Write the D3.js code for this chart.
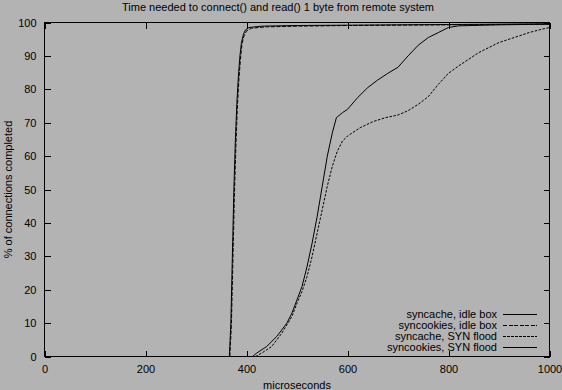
<!DOCTYPE html>
<html>
<head>
<meta charset="utf-8">
<script src="https://cdn.jsdelivr.net/npm/d3@7"></script>
<style>
  body { margin: 0; background: #b3b3b3; }
  svg { display: block; font-family: "Liberation Sans", Arial, sans-serif; }
  .axis text { font-size: 11px; fill: #000; }
  .axis line { stroke: #000; }
  .axis path { display: none; }
</style>
</head>
<body>
<div id="chart"></div>
<script>
// data: x in microseconds, y in % of connections completed
var seriesNames = ["syncache, idle box", "syncookies, idle box", "syncache, SYN flood", "syncookies, SYN flood"];

var syncacheIdleUs  = [366, 369, 372, 375, 378, 381, 384, 387, 390, 394, 398, 405, 430, 500, 600, 800, 1000];
var syncacheIdlePct = [0, 10, 30, 50, 65, 76, 84, 90, 94, 96.5, 97.8, 98.5, 98.9, 99.1, 99.2, 99.4, 99.6];

var syncookiesIdleUs  = [367, 370, 373, 376, 379, 382, 385, 388, 391, 395, 400, 410, 440, 500, 600, 800, 1000];
var syncookiesIdlePct = [0, 9, 28, 48, 63, 75, 83, 89, 93.5, 96, 97.5, 98.3, 98.7, 98.9, 99.1, 99.3, 99.5];

var syncacheFloodUs  = [418, 430, 450, 470, 490, 500, 510, 520, 530, 540, 550, 560, 570, 580, 590, 600, 625, 650, 675, 700, 720, 740, 760, 780, 800, 820, 840, 860, 880, 900, 920, 940, 960, 980, 1000];
var syncacheFloodPct = [0, 1, 3, 7, 12, 16, 19.5, 24, 30, 37, 44, 51, 57, 61.5, 64.5, 66, 68.5, 70.3, 71.5, 72.3, 73.6, 75.5, 77.8, 81.5, 84.8, 87, 89, 91, 92.5, 94, 95, 96, 97, 97.8, 98.5];

var syncookiesFloodUs  = [412, 420, 440, 460, 480, 490, 500, 510, 520, 530, 540, 550, 560, 570, 578, 590, 600, 620, 640, 660, 680, 700, 720, 740, 760, 780, 800, 820, 900, 1000];
var syncookiesFloodPct = [0, 1, 3, 6, 10, 13, 17, 21, 27, 34, 42, 51, 60, 67, 71.5, 73, 74, 77.5, 80.5, 82.8, 84.8, 86.6, 90, 93.2, 95.5, 97, 98.5, 99, 99.3, 99.5];

var xTicks = [0, 200, 400, 600, 800, 1000];
var yTicks = [0, 10, 20, 30, 40, 50, 60, 70, 80, 90, 100];

var W = 562, H = 390;
var plot = {left: 44.5, right: 549.5, top: 22.5, bottom: 356.5};

var svg = d3.select("#chart").append("svg")
    .attr("width", W)
    .attr("height", H);

var x = d3.scaleLinear().domain([0, 1000]).range([plot.left, plot.right]);
var y = d3.scaleLinear().domain([0, 100]).range([plot.bottom, plot.top]);

// axes, ticks pointing inward on all four sides (gnuplot style)
svg.append("g").attr("class", "axis")
    .attr("transform", "translate(0," + plot.bottom + ")")
    .attr("shape-rendering", "crispEdges")
    .call(d3.axisBottom(x).tickValues(xTicks).tickSize(-6).tickPadding(8.5).tickFormat(d3.format("d")));
svg.append("g").attr("class", "axis")
    .attr("transform", "translate(0," + plot.top + ")")
    .attr("shape-rendering", "crispEdges")
    .call(d3.axisTop(x).tickValues(xTicks).tickSize(-6).tickFormat(""));
svg.append("g").attr("class", "axis")
    .attr("transform", "translate(" + plot.left + ",0)")
    .attr("shape-rendering", "crispEdges")
    .call(d3.axisLeft(y).tickValues(yTicks).tickSize(-6).tickPadding(8));
svg.append("g").attr("class", "axis")
    .attr("transform", "translate(" + plot.right + ",0)")
    .attr("shape-rendering", "crispEdges")
    .call(d3.axisRight(y).tickValues(yTicks).tickSize(-6).tickFormat(""));

svg.append("rect")
    .attr("x", plot.left).attr("y", plot.top)
    .attr("width", plot.right - plot.left).attr("height", plot.bottom - plot.top)
    .attr("fill", "none").attr("stroke", "#000")
    .attr("shape-rendering", "crispEdges");

// titles
svg.append("text")
    .attr("x", 278).attr("y", 10.5)
    .attr("text-anchor", "middle")
    .style("font-size", "11px")
    .text("Time needed to connect() and read() 1 byte from remote system");

svg.append("text")
    .attr("x", (plot.left + plot.right) / 2).attr("y", 388.5)
    .attr("text-anchor", "middle")
    .style("font-size", "11px")
    .text("microseconds");

svg.append("text")
    .attr("transform", "rotate(-90)")
    .attr("x", -(plot.top + plot.bottom) / 2).attr("y", 11.5)
    .attr("text-anchor", "middle")
    .style("font-size", "11px")
    .text("% of connections completed");

// series
var dashes = [null, "4,1.5", "2.5,1.5", null];
var series = [
    {name: seriesNames[0], us: syncacheIdleUs, pct: syncacheIdlePct},
    {name: seriesNames[1], us: syncookiesIdleUs, pct: syncookiesIdlePct},
    {name: seriesNames[2], us: syncacheFloodUs, pct: syncacheFloodPct},
    {name: seriesNames[3], us: syncookiesFloodUs, pct: syncookiesFloodPct}
];

var line = d3.line()
    .x(function(d) { return x(d[0]); })
    .y(function(d) { return y(d[1]); });

svg.selectAll(".curve")
    .data(series)
    .enter().append("path")
    .attr("class", "curve")
    .attr("d", function(s) { return line(d3.zip(s.us, s.pct)); })
    .attr("fill", "none")
    .attr("stroke", "#000")
    .attr("stroke-width", 1)
    .attr("stroke-dasharray", function(s, i) { return dashes[i]; });

// key
var key = svg.append("g").attr("class", "key");
series.forEach(function(s, i) {
    var ky = 314 + i * 11;
    key.append("text")
        .attr("x", 497).attr("y", ky)
        .attr("dy", "0.35em")
        .attr("text-anchor", "end")
        .style("font-size", "11px")
        .text(s.name);
    key.append("line")
        .attr("x1", 503).attr("x2", 537)
        .attr("y1", ky + 0.5).attr("y2", ky + 0.5)
        .attr("stroke", "#000")
        .attr("stroke-dasharray", dashes[i])
        .attr("shape-rendering", "crispEdges");
});
</script>
</body>
</html>
